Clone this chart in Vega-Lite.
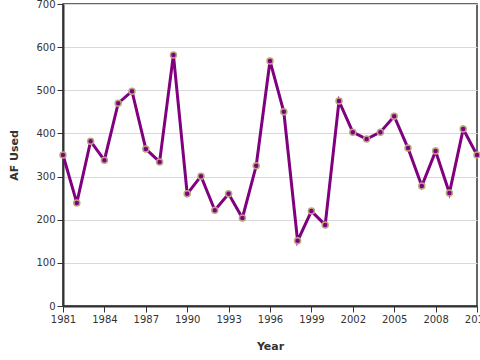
{
  "$schema": "https://vega.github.io/schema/vega-lite/v6.json",
  "autosize": "none",
  "width": 414,
  "height": 302,
  "padding": {"left": 63, "top": 4, "right": 3, "bottom": 54},
  "background": "white",
  "config": {
    "view": {"stroke": "#333", "strokeWidth": 1.5},
    "axis": {
      "labelFont": "DejaVu Sans",
      "titleFont": "DejaVu Sans",
      "labelFontSize": 10,
      "titleFontSize": 11,
      "titleFontWeight": "bold",
      "labelColor": "#333",
      "titleColor": "#333",
      "domainColor": "#333",
      "domainWidth": 2,
      "tickColor": "#333",
      "tickWidth": 1,
      "tickSize": 6,
      "gridColor": "#d9d9d9",
      "labelFlush": false,
      "labelOverlap": false
    }
  },
  "data": {
    "values": [
      {"Year": 1981, "AF": 350},
      {"Year": 1982, "AF": 239},
      {"Year": 1983, "AF": 382},
      {"Year": 1984, "AF": 338},
      {"Year": 1985, "AF": 470},
      {"Year": 1986, "AF": 498},
      {"Year": 1987, "AF": 364},
      {"Year": 1988, "AF": 334},
      {"Year": 1989, "AF": 582},
      {"Year": 1990, "AF": 260},
      {"Year": 1991, "AF": 301},
      {"Year": 1992, "AF": 222},
      {"Year": 1993, "AF": 260},
      {"Year": 1994, "AF": 204},
      {"Year": 1995, "AF": 325},
      {"Year": 1996, "AF": 568},
      {"Year": 1997, "AF": 450},
      {"Year": 1998, "AF": 151},
      {"Year": 1999, "AF": 220},
      {"Year": 2000, "AF": 188},
      {"Year": 2001, "AF": 475},
      {"Year": 2002, "AF": 403},
      {"Year": 2003, "AF": 387},
      {"Year": 2004, "AF": 403},
      {"Year": 2005, "AF": 440},
      {"Year": 2006, "AF": 366},
      {"Year": 2007, "AF": 278},
      {"Year": 2008, "AF": 359},
      {"Year": 2009, "AF": 262},
      {"Year": 2010, "AF": 410},
      {"Year": 2011, "AF": 350}
    ]
  },
  "encoding": {
    "x": {
      "field": "Year",
      "type": "quantitative",
      "scale": {"domain": [1981, 2011], "nice": false, "zero": false},
      "axis": {"values": [1981, 1984, 1987, 1990, 1993, 1996, 1999, 2002, 2005, 2008, 2011], "format": "d", "grid": false, "title": "Year", "titlePadding": 16}
    },
    "y": {
      "field": "AF",
      "type": "quantitative",
      "scale": {"domain": [0, 700], "nice": false},
      "axis": {"values": [0, 100, 200, 300, 400, 500, 600, 700], "title": "AF Used", "titlePadding": 16}
    }
  },
  "layer": [
    {"mark": {"type": "line", "color": "#800080", "strokeWidth": 3}},
    {"mark": {"type": "point", "filled": true, "fill": "#800080", "stroke": "#b8a77e", "strokeWidth": 1.5, "size": 36, "opacity": 1}}
  ]
}
